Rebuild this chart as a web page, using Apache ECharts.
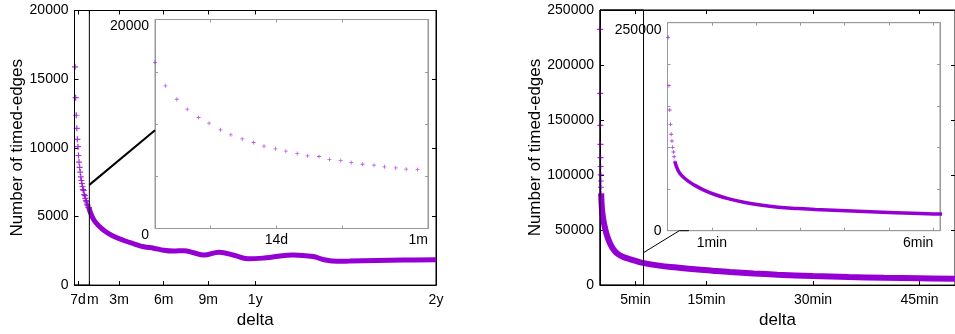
<!DOCTYPE html>
<html lang="en">
<head>
  <meta charset="UTF-8">
  <script src="https://cdn.jsdelivr.net/npm/echarts@6.0.0/dist/echarts.min.js"></script>
  <style>body{margin:0;background:#fff;}</style>
</head>
<body>
  <div id="timedEdgesChart" style="width: 955px;height:334px;"></div>

  <script type="text/javascript">

    // left panel: delta in days
    var leftEarlyDays = [1.2, 2.3, 3.5, 4.6, 5.8, 6.9, 8.1, 9.2, 10.4, 11.6, 12.7, 13.9, 15.0, 16.2, 17.3, 18.5, 19.6, 20.8, 21.9, 23.1, 24.3, 25.4, 26.6, 27.7, 28.9];
    var leftEarlyCount = [15900, 13650, 12370, 11420, 10620, 10080, 9440, 8960, 8570, 8230, 7880, 7620, 7400, 7180, 6950, 6890, 6600, 6510, 6320, 6150, 6060, 5900, 5800, 5680, 5650];
    var leftTailDays = [28.9, 40, 60, 80, 100, 120, 140, 160, 180, 200, 221, 241, 261, 292, 322, 350, 383, 400, 442, 482, 502, 530, 556, 610, 664, 730];
    var leftTailCount = [5650, 4700, 3970, 3540, 3250, 3010, 2790, 2690, 2540, 2478, 2510, 2355, 2190, 2400, 2170, 1920, 1970, 2040, 2200, 2080, 1870, 1730, 1755, 1800, 1826, 1840];
    var leftTicks = [7, 30, 90, 180, 270, 365, 730];
    var leftLabelValues = [7, 90, 180, 270, 365, 730];
    var leftTickLabels = ['7d', '3m', '6m', '9m', '1y', '2y'];
    var leftMonthValue = 30;   // "1m" tick, its label is drawn half hidden next to "7d"
    var leftInsetTicks = [7, 14, 21];
    var leftInsetLabelValues = [14, 30];
    var leftInsetLabels = ['14d', '1m'];

    // right panel: delta in seconds
    var rightEarlySec = [1, 2, 3, 4, 5, 6, 7, 8, 9, 10];
    var rightEarlyCount = [232400, 174300, 145100, 127900, 115900, 107800, 100200, 94600, 88900, 82900];
    var rightTailSec = [10, 14, 19, 28, 37, 50, 64, 82, 105, 126, 150, 175, 200, 250, 300, 360, 500, 650, 800, 950, 1100, 1300, 1500, 1800, 2100, 2400, 2700, 3000];
    var rightTailCount = [82900, 73000, 66500, 59500, 54500, 48500, 43500, 38500, 33800, 30800, 28300, 26700, 25400, 23600, 22000, 20200, 17700, 16000, 14400, 13100, 11900, 10600, 9500, 8200, 7300, 6600, 6200, 5800];
    var rightTicks = [300, 900, 1800, 2700];
    var rightTickLabels = ['5min', '15min', '30min', '45min'];
    var rightInsetTicks = [60, 120, 180, 240, 300, 360];
    var rightInsetLabelValues = [60, 360];
    var rightInsetLabels = ['1min', '6min'];

    // zoomed regions and connector anchors (data coordinates)
    var leftBox = { x: [0, 30], y: [0, 20000] };
    var rightBox = { x: [0, 368], y: [0, 250000] };
    var leftLink = { from: [30, 7300], to: [1.2, 9400] };
    var rightLink = { from: [368, 29500], mid: [16, 0], to: [29, 0] };

    var purple = '#9400d3';
    var plus = 'path://M4,0H6V4H10V6H6V10H4V6H0V4H4Z';
    var font = 'Liberation Sans';

    function pairs(xs, ys) {
        return xs.map(function (x, i) { return [x, ys[i]]; });
    }

    function labelFrom(values, labels) {
        return function (v) {
            var i = values.indexOf(v);
            return i < 0 ? '' : labels[i];
        };
    }

    function xAx(grid, pos, min, max, ticks, labelValues, labels, inset) {
        var col = inset ? '#999' : '#000';
        return {
            type: 'value', gridIndex: grid, position: pos, min: min, max: max,
            axisLine: { show: true, onZero: false, lineStyle: { color: col, width: 1 } },
            axisTick: { show: true, inside: true, length: inset ? 3 : 4, customValues: ticks, lineStyle: { color: col } },
            axisLabel: {
                show: pos === 'bottom', customValues: labelValues, formatter: labelFrom(labelValues, labels),
                color: '#000', fontSize: 14, fontFamily: font, margin: inset ? 5 : 8,
                interval: 0, hideOverlap: false, showMinLabel: true, showMaxLabel: true,
                alignMaxLabel: inset ? 'right' : null
            },
            splitLine: { show: false }
        };
    }

    function yAx(grid, pos, max, interval, labelValues, inset) {
        var col = inset ? '#999' : '#000';
        return {
            type: 'value', gridIndex: grid, position: pos, min: 0, max: max, interval: interval,
            axisLine: { show: true, onZero: false, lineStyle: { color: col, width: 1 } },
            axisTick: { show: true, inside: true, length: inset ? 3 : 4, lineStyle: { color: col } },
            axisLabel: {
                show: pos === 'left', customValues: labelValues, formatter: function (v) { return String(v); },
                color: '#000', fontSize: 14, fontFamily: font, margin: 6
            },
            splitLine: { show: false }
        };
    }

    function createChart() {
        var chart = echarts.init(document.getElementById('timedEdgesChart'));

        var monthAxis = xAx(0, 'bottom', 0, 730, [], [leftMonthValue], ['m'], false);
        monthAxis.axisLine.show = false;
        monthAxis.axisTick.show = false;
        monthAxis.axisLabel.formatter = function () { return '{m|m}'; };
        monthAxis.axisLabel.rich = { m: { padding: [0, 0, 0, 7], fontSize: 14, fontFamily: font, color: '#000' } };

        var xAxes = [
            xAx(0, 'bottom', 0, 730, leftTicks, leftLabelValues, leftTickLabels, false),
            xAx(0, 'top', 0, 730, leftTicks, [], [], false),
            xAx(1, 'bottom', 1.2, 30, leftInsetTicks, leftInsetLabelValues, leftInsetLabels, true),
            xAx(1, 'top', 1.2, 30, leftInsetTicks, [], [], true),
            xAx(2, 'bottom', 0, 3000, rightTicks, rightTicks, rightTickLabels, false),
            xAx(2, 'top', 0, 3000, rightTicks, [], [], false),
            xAx(3, 'bottom', 0, 369, rightInsetTicks, rightInsetLabelValues, rightInsetLabels, true),
            xAx(3, 'top', 0, 369, rightInsetTicks, [], [], true),
            monthAxis
        ];
        xAxes[0].name = 'delta';
        xAxes[4].name = 'delta';
        [0, 4].forEach(function (i) {
            xAxes[i].nameLocation = 'middle';
            xAxes[i].nameGap = 25;
            xAxes[i].nameTextStyle = { fontSize: 17, fontFamily: font, color: '#000' };
        });

        var yAxes = [
            yAx(0, 'left', 20000, 5000, [0, 5000, 10000, 15000, 20000], false),
            yAx(0, 'right', 20000, 5000, [], false),
            yAx(1, 'left', 20000, 5000, [0, 20000], true),
            yAx(1, 'right', 20000, 5000, [], true),
            yAx(2, 'left', 250000, 50000, [0, 50000, 100000, 150000, 200000, 250000], false),
            yAx(2, 'right', 250000, 50000, [], false),
            yAx(3, 'left', 250000, 50000, [0, 250000], true),
            yAx(3, 'right', 250000, 50000, [], true)
        ];
        yAxes[2].axisLabel.verticalAlign = 'top';
        yAxes[6].axisLabel.formatter = function (v) { return v === 250000 ? '{t|250000}' : '0'; };
        yAxes[6].axisLabel.rich = { t: { padding: [14, 0, 0, 0], fontSize: 14, fontFamily: font, color: '#000' } };
        [0, 4].forEach(function (i) {
            yAxes[i].name = 'Number of timed-edges';
            yAxes[i].nameLocation = 'middle';
            yAxes[i].nameTextStyle = { fontSize: 17, fontFamily: font, color: '#000' };
        });
        yAxes[0].nameGap = 47;
        yAxes[4].nameGap = 52;

        var option = {
            animation: false,
            textStyle: { fontFamily: font },
            grid: [
                { left: 74.5, top: 10.5, width: 361.5, height: 276, show: true, borderColor: '#000', borderWidth: 1 },
                { left: 155, top: 19.5, width: 273, height: 209, show: true, borderColor: '#999', backgroundColor: '#fff' },
                { left: 600, top: 10, width: 361, height: 276.7, show: true, borderColor: '#000', borderWidth: 1 },
                { left: 667.5, top: 22.7, width: 272.5, height: 208, show: true, borderColor: '#999', backgroundColor: '#fff' }
            ],
            xAxis: xAxes,
            yAxis: yAxes,
            series: [
                {
                    type: 'line', xAxisIndex: 0, yAxisIndex: 0, data: pairs(leftTailDays, leftTailCount),
                    smooth: 0.4, showSymbol: false, lineStyle: { color: purple, width: 5 }
                },
                {
                    type: 'scatter', xAxisIndex: 0, yAxisIndex: 0, data: pairs(leftEarlyDays, leftEarlyCount),
                    symbol: plus, symbolSize: 6, itemStyle: { color: purple }
                },
                {
                    type: 'scatter', xAxisIndex: 2, yAxisIndex: 2, data: pairs(leftEarlyDays, leftEarlyCount),
                    symbol: plus, symbolSize: 4, itemStyle: { color: purple, opacity: 0.65 }
                },
                {
                    type: 'line', xAxisIndex: 4, yAxisIndex: 4, data: pairs(rightTailSec, rightTailCount),
                    smooth: 0.4, showSymbol: false, lineStyle: { color: purple, width: 6 }
                },
                {
                    type: 'scatter', xAxisIndex: 4, yAxisIndex: 4, data: pairs(rightEarlySec, rightEarlyCount),
                    symbol: plus, symbolSize: 6, itemStyle: { color: purple }
                },
                {
                    type: 'line', xAxisIndex: 6, yAxisIndex: 6, data: pairs(rightTailSec, rightTailCount),
                    smooth: 0.4, showSymbol: false, lineStyle: { color: purple, width: 3.5, cap: 'butt' }
                },
                {
                    type: 'scatter', xAxisIndex: 6, yAxisIndex: 6, data: pairs(rightEarlySec, rightEarlyCount),
                    symbol: plus, symbolSize: 4, itemStyle: { color: purple, opacity: 0.75 }
                }
            ]
        };
        chart.setOption(option);

        // zoom boxes and connector lines, placed from data coordinates
        function px(grid, p) { return chart.convertToPixel({ gridIndex: grid }, p); }
        function box(grid, b) {
            var a = px(grid, [b.x[0], b.y[1]]);
            var c = px(grid, [b.x[1], b.y[0]]);
            return {
                type: 'rect', z: 50, shape: { x: a[0], y: a[1], width: c[0] - a[0], height: c[1] - a[1] },
                style: { fill: null, stroke: '#000', lineWidth: 1 }
            };
        }
        chart.setOption({
            graphic: [
                box(0, leftBox),
                box(2, rightBox),
                {
                    type: 'polyline', z: 50,
                    shape: { points: [px(0, leftLink.from), px(1, leftLink.to)] },
                    style: { stroke: '#000', lineWidth: 2, fill: null }
                },
                {
                    type: 'polyline', z: 50,
                    shape: { points: [px(2, rightLink.from), px(3, rightLink.mid), px(3, rightLink.to)] },
                    style: { stroke: '#000', lineWidth: 1, fill: null }
                }
            ]
        });
    }
    createChart();
  </script>
</body>
</html>
